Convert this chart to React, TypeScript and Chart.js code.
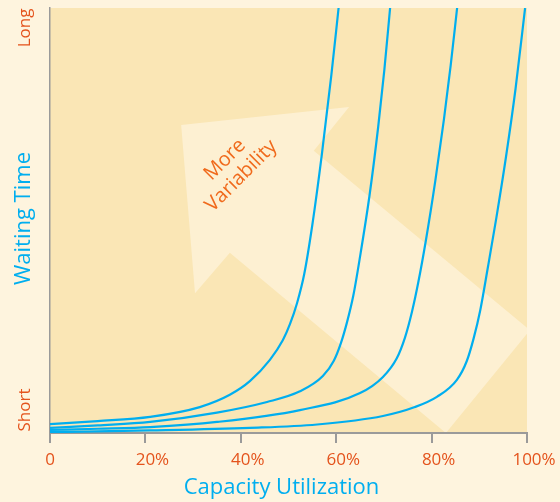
import React, { useEffect, useRef } from "react";
import { Chart, registerables } from "chart.js";

Chart.register(...registerables);

// Curves (x = capacity utilization %, y = waiting time, 0..100 relative)
const curve1X = [0, 10, 21, 31.4, 37.7, 41.9, 46.1, 48.8, 50.3, 51.8, 53.3, 55, 57, 59, 60.5];
const curve1Y = [2.1, 2.8, 3.8, 6.1, 9.0, 12.2, 17.2, 21.8, 25.6, 30.6, 37.4, 49.0, 65.6, 84.4, 100];
const curve2X = [0, 10, 21, 35, 45.5, 52.4, 57.2, 59.5, 61, 62.3, 63.6, 65, 67, 68.8, 70.1, 71.3];
const curve2Y = [1.2, 1.8, 2.6, 4.8, 7.3, 9.8, 13.4, 17.0, 21.2, 26.2, 32.4, 41.5, 56, 72, 85.5, 100];
const curve3X = [0, 10, 21, 35, 52.4, 65, 69.8, 72.7, 74.4, 75.9, 77.2, 78.8, 80.8, 82.6, 84, 85.35];
const curve3Y = [0.7, 1.0, 1.4, 2.6, 5.4, 9.4, 13.2, 17.6, 22.4, 28.6, 35.4, 45.3, 59.5, 73.9, 86.5, 100];
const curve4X = [0, 21, 41.9, 56, 69.8, 76.5, 81.1, 85.3, 87.4, 88.8, 90.2, 91.8, 93.6, 95.6, 97.6, 99.6];
const curve4Y = [0.2, 0.6, 1.2, 2.0, 4.0, 6.1, 8.5, 12.5, 17.0, 22.2, 28.9, 39.0, 50.8, 65.0, 81.0, 100];

const xTickValues = [0, 20, 40, 60, 80, 100];
const xTickLabels = ["0", "20%", "40%", "60%", "80%", "100%"];
const yTickValues = [5.4, 95.3];
const yTickLabels = ["Short", "Long"];

const xTitle = "Capacity Utilization";
const yTitle = "Waiting Time";
const arrowLines = ["More", "Variability"];
const arrowTextAt = [38.4, 62.4];

// Arrow outline in data units
const arrowX = [27.5, 62.7, 55.3, 100.6, 83, 37.7, 30.4];
const arrowY = [72.5, 76.7, 66.4, 24.2, 0, 42.4, 32.9];

const OUTER = "#fef4de";
const PLOT = "#fae6b5";
const ARROW = "#fdf0d2";
const BLUE = "#00aeef";
const ORANGE = "#e4531c";
const ORANGE2 = "#f06a1c";
const GRAY = "#9a9a9a";
const FONT = "'Open Sans', 'Noto Sans', sans-serif";

const toPts = (xs: number[], ys: number[]) => xs.map((x, i) => ({ x, y: ys[i] }));

const deco = {
  id: "deco",
  beforeDraw(chart: any) {
    const { ctx, chartArea, scales } = chart;
    const { left, top, right, bottom } = chartArea;
    ctx.save();
    ctx.fillStyle = OUTER;
    ctx.fillRect(0, 0, chart.width, chart.height);
    ctx.fillStyle = PLOT;
    ctx.fillRect(left, top, right - left, bottom - top);
    ctx.beginPath();
    ctx.rect(left, top, right - left, bottom - top);
    ctx.clip();
    ctx.beginPath();
    arrowX.forEach((v, i) => {
      const px = scales.x.getPixelForValue(v);
      const py = scales.y.getPixelForValue(arrowY[i]);
      if (i === 0) ctx.moveTo(px, py);
      else ctx.lineTo(px, py);
    });
    ctx.closePath();
    ctx.fillStyle = ARROW;
    ctx.fill();
    ctx.restore();
  },
  afterDraw(chart: any) {
    const { ctx, chartArea, scales } = chart;
    const { left, right, bottom } = chartArea;
    ctx.save();
    ctx.textBaseline = "middle";
    // x tick labels: the number centred under the tick, "%" trailing
    ctx.fillStyle = ORANGE;
    ctx.font = `17px ${FONT}`;
    ctx.textAlign = "left";
    xTickValues.forEach((v, i) => {
      const label = xTickLabels[i];
      const num = label.replace("%", "");
      const px = scales.x.getPixelForValue(v);
      ctx.fillText(label, px - ctx.measureText(num).width / 2, bottom + 27);
    });
    // x title
    ctx.fillStyle = BLUE;
    ctx.font = `22px ${FONT}`;
    ctx.textAlign = "center";
    ctx.fillText(xTitle, (left + right) / 2 - 7, 488);
    // y title
    ctx.save();
    ctx.translate(24, scales.y.getPixelForValue(50) - 2);
    ctx.rotate(-Math.PI / 2);
    ctx.fillText(yTitle, 0, 0);
    ctx.restore();
    // y labels
    ctx.fillStyle = ORANGE;
    ctx.font = `17px ${FONT}`;
    yTickValues.forEach((v, i) => {
      ctx.save();
      ctx.translate(25, scales.y.getPixelForValue(v));
      ctx.rotate(-Math.PI / 2);
      ctx.fillText(yTickLabels[i], 0, 0);
      ctx.restore();
    });
    // arrow text
    ctx.save();
    ctx.fillStyle = ORANGE2;
    ctx.font = `20px ${FONT}`;
    ctx.translate(scales.x.getPixelForValue(arrowTextAt[0]), scales.y.getPixelForValue(arrowTextAt[1]));
    ctx.rotate(-Math.PI / 4);
    arrowLines.forEach((t, i) => {
      ctx.fillText(t, 0, (i - (arrowLines.length - 1) / 2) * 23);
    });
    ctx.restore();
    ctx.restore();
  },
};

export default function App() {
  const ref = useRef<HTMLCanvasElement | null>(null);
  useEffect(() => {
    document.body.style.margin = "0";
    const ds = (xs: number[], ys: number[]) => ({
      data: toPts(xs, ys),
      showLine: true,
      borderColor: BLUE,
      borderWidth: 2.2,
      pointRadius: 0,
      cubicInterpolationMode: "monotone" as const,
      fill: false,
    });
    const chart = new Chart(ref.current!, {
      type: "scatter",
      data: {
        datasets: [ds(curve1X, curve1Y), ds(curve2X, curve2Y), ds(curve3X, curve3Y), ds(curve4X, curve4Y)],
      },
      options: {
        animation: false,
        responsive: false,
        layout: { padding: { left: 0, top: 8, right: 33, bottom: 0 } },
        plugins: { legend: { display: false }, tooltip: { enabled: false } },
        scales: {
          x: {
            type: "linear",
            min: 0,
            max: 100,
            afterFit: (s: any) => { s.height = 69; },
            afterBuildTicks: (s: any) => { s.ticks = xTickValues.map((v) => ({ value: v })); },
            ticks: { display: false },
            grid: { drawOnChartArea: false, color: GRAY, lineWidth: 2, tickLength: 10 },
            border: { color: GRAY, width: 2 },
          },
          y: {
            type: "linear",
            min: 0,
            max: 100,
            afterFit: (s: any) => { s.width = 50; },
            ticks: { display: false },
            grid: { drawOnChartArea: false, drawTicks: false },
            border: { color: GRAY, width: 1.5 },
          },
        },
      },
      plugins: [deco],
    });
    return () => chart.destroy();
  }, []);
  return (
    <div style={{ width: 560, height: 502 }}>
      <canvas ref={ref} width={560} height={502} />
    </div>
  );
}
